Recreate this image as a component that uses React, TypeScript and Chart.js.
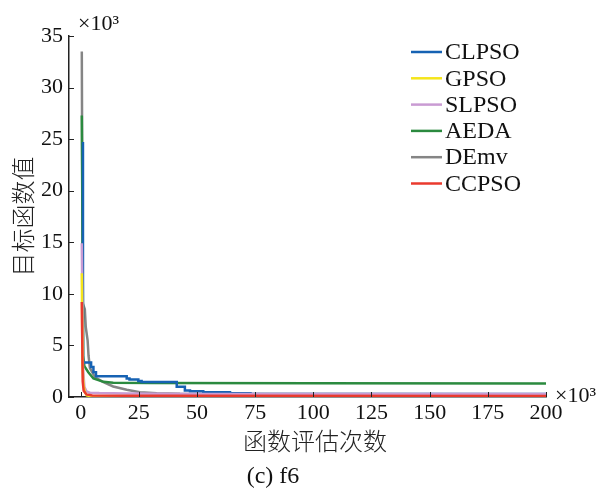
import React, { useEffect, useRef } from 'react';
import { Chart, registerables } from 'chart.js';

Chart.register(...registerables);

// ---- data (x in 10^3 evaluations, y in 10^3) ----
const seriesNames = ['CLPSO', 'GPSO', 'SLPSO', 'AEDA', 'DEmv', 'CCPSO'];
const seriesColors = ['#1662b3', '#f5e51b', '#c99bd3', '#2b8a3f', '#858585', '#ea3a2e'];
const drawOrder = [3, 1, 2, 4, 5, 0];

const clpsoX = [0.5, 1.0, 4.5, 5.5, 6.6, 19.8, 21.0, 24.8, 26.2, 41.3, 44.8, 47.0, 52.7, 64.2, 73.0, 200];
const clpsoY = [24.6, 3.35, 2.9, 2.4, 2.0, 1.8, 1.7, 1.55, 1.45, 1.0, 0.63, 0.55, 0.47, 0.37, 0.3, 0.3];

const gpsoX = [0.5, 0.8, 1.2, 1.8, 2.6, 5, 200];
const gpsoY = [12.0, 3.0, 1.2, 0.5, 0.15, 0.06, 0.04];

const slpsoX = [0.5, 1.0, 1.6, 2.5, 4, 8, 20, 50, 200];
const slpsoY = [14.9, 3.0, 1.0, 0.55, 0.42, 0.38, 0.33, 0.3, 0.3];

const aedaX = [0.5, 1.1, 1.6, 3.3, 5.5, 9.8, 14, 30, 100, 200];
const aedaY = [27.3, 4.0, 3.0, 2.4, 1.8, 1.47, 1.38, 1.35, 1.34, 1.3];

const demvX = [0.5, 0.9, 1.8, 2.2, 3.0, 3.4, 4.0, 6.2, 9.8, 14, 19.8, 25.5, 32.7, 42.7, 75, 200];
const demvY = [33.5, 9.1, 8.5, 6.8, 5.5, 4.0, 2.8, 1.9, 1.45, 1.02, 0.7, 0.47, 0.37, 0.31, 0.28, 0.27];

const ccpsoX = [0.5, 0.9, 1.3, 2.5, 5, 20, 200];
const ccpsoY = [9.2, 1.5, 0.6, 0.25, 0.15, 0.12, 0.1];

const seriesX = [clpsoX, gpsoX, slpsoX, aedaX, demvX, ccpsoX];
const seriesY = [clpsoY, gpsoY, slpsoY, aedaY, demvY, ccpsoY];
const seriesStepped: (false | 'before')[] = ['before', false, false, false, false, false];

const xTicks = [0, 25, 50, 75, 100, 125, 150, 175, 200];
const yTicks = [0, 5, 10, 15, 20, 25, 30, 35];
const xTitle = '函数评估次数';
const yTitle = '目标函数值';
const caption = '(c) f6';
const scaleNote = '×10³';

const SERIF = '"Liberation Serif", "Times New Roman", serif';
const CJK = '"Noto Sans CJK SC", sans-serif';

const annotPlugin = {
  id: 'annot',
  afterDatasetsDraw(chart: any) {
    const { ctx, chartArea, scales } = chart;
    const xs = scales.x;
    const ys = scales.y;
    ctx.save();
    // inward tick marks
    ctx.strokeStyle = '#222';
    ctx.lineWidth = 1;
    xs.ticks.forEach((t: any) => {
      const px = Math.round(xs.getPixelForValue(t.value)) + 0.5;
      ctx.beginPath();
      ctx.moveTo(px, chartArea.bottom);
      ctx.lineTo(px, chartArea.bottom - 5);
      ctx.stroke();
    });
    ys.ticks.forEach((t: any) => {
      const py = Math.round(ys.getPixelForValue(t.value)) + 0.5;
      ctx.beginPath();
      ctx.moveTo(chartArea.left, py);
      ctx.lineTo(chartArea.left + 5, py);
      ctx.stroke();
    });

    // legend
    const lx = chartArea.right - 135;
    const ly = chartArea.top + 16;
    ctx.font = `24px ${SERIF}`;
    ctx.textBaseline = 'middle';
    ctx.textAlign = 'left';
    chart.data.datasets.forEach((ds: any, i: number) => {
      const y = ly + i * 26.3;
      ctx.strokeStyle = ds.borderColor;
      ctx.lineWidth = 2.5;
      ctx.beginPath();
      ctx.moveTo(lx, y);
      ctx.lineTo(lx + 31, y);
      ctx.stroke();
      ctx.fillStyle = '#111';
      ctx.fillText(ds.label, lx + 34, y + 1);
    });

    // x10^3 notes
    ctx.font = `22px ${SERIF}`;
    ctx.textBaseline = 'alphabetic';
    ctx.fillStyle = '#111';
    ctx.fillText(scaleNote, chartArea.left + 9, chartArea.top - 6);
    ctx.fillText(scaleNote, chartArea.right + 9, chartArea.bottom + 5);

    // x title
    ctx.font = `300 24px ${CJK}`;
    ctx.textAlign = 'center';
    ctx.textBaseline = 'middle';
    ctx.fillStyle = '#222';
    ctx.fillText(xTitle, 315, 441);
    ctx.restore();
  },
};

export default function App() {
  const ref = useRef<HTMLCanvasElement>(null);

  useEffect(() => {
    if (!ref.current) return;
    const datasets = seriesNames.map((name, i) => ({
      label: name,
      data: seriesX[i].map((x, k) => ({ x, y: seriesY[i][k] })),
      borderColor: seriesColors[i],
      backgroundColor: seriesColors[i],
      borderWidth: 2.5,
      pointRadius: 0,
      tension: 0,
      stepped: seriesStepped[i],
      order: drawOrder[i],
      fill: false,
    }));
    const chart = new Chart(ref.current, {
      type: 'line',
      data: { datasets },
      options: {
        animation: false,
        responsive: false,
        maintainAspectRatio: false,
        layout: { padding: { left: 0, right: 54, top: 36, bottom: 0 } },
        font: { family: SERIF },
        plugins: {
          legend: { display: false },
          tooltip: { enabled: false },
          title: {
            display: true,
            position: 'bottom',
            text: caption,
            color: '#111',
            font: { family: SERIF, size: 24, weight: 'normal' },
            padding: { top: 0, bottom: 5 },
          },
        },
        scales: {
          x: {
            type: 'linear',
            min: -5,
            max: 200,
            grid: { display: false, drawTicks: false },
            border: { display: true, color: '#222', width: 1.5 },
            ticks: {
              color: '#111',
              padding: 3,
              font: { family: SERIF, size: 22 },
              maxRotation: 0,
              callback: (v: any) => String(v),
            },
            afterBuildTicks: (s: any) => {
              s.ticks = xTicks.map((v) => ({ value: v }));
            },
            afterFit: (s: any) => {
              s.height = 65.2;
            },
          },
          y: {
            type: 'linear',
            min: 0,
            max: 35,
            grid: { display: false, drawTicks: false },
            border: { display: true, color: '#222', width: 1.5 },
            ticks: {
              color: '#111',
              padding: 6,
              font: { family: SERIF, size: 22 },
              callback: (v: any) => String(v),
            },
            afterBuildTicks: (s: any) => {
              s.ticks = yTicks.map((v) => ({ value: v }));
            },
            afterFit: (s: any) => {
              s.width = 69;
            },
            title: {
              display: true,
              text: yTitle,
              color: '#222',
              font: { family: CJK, size: 24, weight: '300' },
              padding: { top: 8, bottom: 0 },
            },
          },
        },
      } as any,
      plugins: [annotPlugin],
    });
    return () => chart.destroy();
  }, []);

  return (
    <div style={{ position: 'absolute', left: 0, top: 0, width: 600, height: 496, background: '#fff' }}>
      <canvas ref={ref} width={600} height={496} style={{ display: 'block' }} />
    </div>
  );
}
